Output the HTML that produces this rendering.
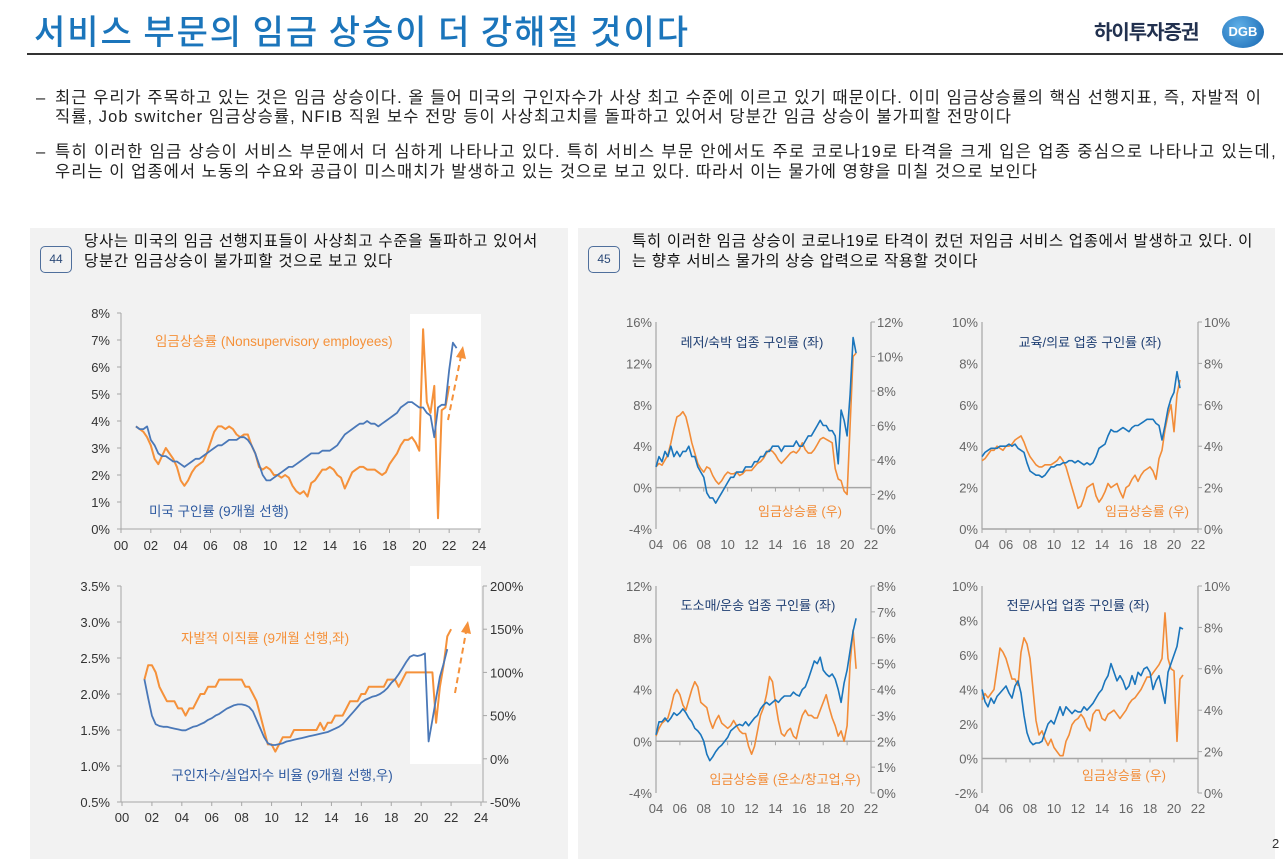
<!DOCTYPE html>
<html><head><meta charset="utf-8">
<style>
body{margin:0;width:1283px;height:859px;background:#fff;position:relative;overflow:hidden;font-family:"Liberation Sans","Noto Sans CJK KR",sans-serif;}
.abs{position:absolute;}
.fit{white-space:nowrap;}
#title{left:34px;top:5px;font-size:34px;color:#1b75bb;font-family:"Noto Sans CJK KR",sans-serif;font-weight:500;}
#logo-text{left:1094px;top:16px;font-size:20px;font-weight:bold;color:#22314f;font-family:"Noto Sans CJK KR",sans-serif;letter-spacing:-1px;}
#logo-circle{left:1222px;top:16px;width:42px;height:32px;border-radius:50%;background:radial-gradient(circle at 40% 35%,#5fb0e8,#1565b0);color:#fff;font-size:13px;text-align:center;line-height:32px;font-weight:bold;}
#rule{left:27px;top:53px;width:1256px;height:2px;background:#333;}
.bl{font-size:16.5px;color:#222;line-height:20px;font-family:"Liberation Sans","Noto Sans CJK KR",sans-serif;}
.panel{background:#f2f2f2;}
.num{width:30px;height:25px;border:1px solid #4f6f9c;border-radius:5px;color:#2c4a78;font-size:12px;text-align:center;line-height:25px;background:#f2f2f2;}
.pt{font-size:15.5px;color:#111;line-height:20px;font-family:"Liberation Sans","Noto Sans CJK KR",sans-serif;}
</style></head>
<body>
<div class="abs fit" id="title" data-fit="656">서비스 부문의 임금 상승이 더 강해질 것이다</div>
<div class="abs" id="logo-text">하이투자증권</div>
<div class="abs" id="logo-circle">DGB</div>
<div class="abs" id="rule"></div>

<div class="abs bl" style="left:36px;top:88px">–</div>
<div class="abs bl fit" style="left:55px;top:88px" data-fit="1207">최근 우리가 주목하고 있는 것은 임금 상승이다. 올 들어 미국의 구인자수가 사상 최고 수준에 이르고 있기 때문이다. 이미 임금상승률의 핵심 선행지표, 즉, 자발적 이</div>
<div class="abs bl fit" style="left:55px;top:107px" data-fit="957">직률, Job switcher 임금상승률, NFIB 직원 보수 전망 등이 사상최고치를 돌파하고 있어서 당분간 임금 상승이 불가피할 전망이다</div>
<div class="abs bl" style="left:36px;top:142px">–</div>
<div class="abs bl fit" style="left:55px;top:142px" data-fit="1222">특히 이러한 임금 상승이 서비스 부문에서 더 심하게 나타나고 있다. 특히 서비스 부문 안에서도 주로 코로나19로 타격을 크게 입은 업종 중심으로 나타나고 있는데,</div>
<div class="abs bl fit" style="left:55px;top:162px" data-fit="983">우리는 이 업종에서 노동의 수요와 공급이 미스매치가 발생하고 있는 것으로 보고 있다. 따라서 이는 물가에 영향을 미칠 것으로 보인다</div>

<div class="abs panel" style="left:30px;top:228px;width:538px;height:631px"></div>
<div class="abs panel" style="left:578px;top:228px;width:697px;height:631px"></div>
<div class="abs num" style="left:40px;top:246px">44</div>
<div class="abs pt fit" style="left:84px;top:232px" data-fit="454">당사는 미국의 임금 선행지표들이 사상최고 수준을 돌파하고 있어서</div>
<div class="abs pt fit" style="left:84px;top:252px" data-fit="309">당분간 임금상승이 불가피할 것으로 보고 있다</div>
<div class="abs num" style="left:588px;top:246px">45</div>
<div class="abs pt fit" style="left:632px;top:232px" data-fit="621">특히 이러한 임금 상승이 코로나19로 타격이 컸던 저임금 서비스 업종에서 발생하고 있다. 이</div>
<div class="abs pt fit" style="left:632px;top:252px" data-fit="346">는 향후 서비스 물가의 상승 압력으로 작용할 것이다</div>
<div class="abs" style="left:1272px;top:836px;font-size:13px;color:#333">2</div>

<svg class="abs" id="charts" style="left:0;top:0" width="1283" height="859"></svg>

<script>
// ---- Chart 1 data (start year, quarterly step) ----
const c1BlueStart = 2001.0;
const c1Blue = [3.8,3.7,3.7,3.8, 3.3,3.1,2.8,2.7, 2.7,2.6,2.5,2.5, 2.4,2.3,2.4,2.5, 2.6,2.6,2.7,2.8, 2.9,3.0,3.1,3.1, 3.2,3.3,3.3,3.3, 3.4,3.4,3.3,3.1, 2.8,2.4,2.0,1.8, 1.8,1.9,2.0,2.1, 2.2,2.3,2.3,2.4, 2.5,2.6,2.7,2.8, 2.8,2.8,2.9,2.9, 2.9,3.0,3.1,3.3, 3.5,3.6,3.7,3.8, 3.9,3.9,4.0,3.9, 3.9,3.8,3.9,4.0, 4.1,4.2,4.3,4.5, 4.6,4.7,4.7,4.6, 4.5,4.5,4.3,4.2, 3.4,4.5,4.6,4.6, 5.9,6.9,6.7];
const c1OrangeStart = 2001.0;
const c1Orange = [3.8,3.7,3.6,3.4, 3.1,2.6,2.4,2.7, 3.0,2.8,2.6,2.3, 1.8,1.6,1.8,2.1, 2.3,2.4,2.5,2.8, 3.2,3.6,3.8,3.8, 3.7,3.8,3.7,3.5, 3.4,3.5,3.5,3.1, 2.8,2.3,2.2,2.3, 2.2,2.0,2.0,1.9, 2.0,1.9,1.6,1.4, 1.3,1.4,1.2,1.7, 1.8,2.0,2.2,2.2, 2.3,2.2,2.0,1.9, 1.5,1.8,2.1,2.2, 2.3,2.3,2.2,2.2, 2.2,2.1,2.0,2.1, 2.4,2.6,2.8,3.1, 3.3,3.3,3.4,3.2, 2.9,7.4,4.7,4.3, 5.3,0.4,4.4,4.5, 5.3];
const c1YTicks = [0,1,2,3,4,5,6,7,8];
const c1XTicks = ["00","02","04","06","08","10","12","14","16","18","20","22","24"];

// ---- Chart 2 data ----
const c2QuitStart = 2001.5;
const c2Quit = [2.2,2.4,2.4, 2.3,2.1,2.0,1.9, 1.9,1.9,1.8,1.8, 1.7,1.8,1.8,1.9, 2.0,2.0,2.1,2.1, 2.1,2.2,2.2,2.2, 2.2,2.2,2.2,2.2, 2.1,2.1,2.0,1.9, 1.7,1.5,1.3,1.3, 1.2,1.3,1.4,1.4, 1.4,1.5,1.5,1.5, 1.5,1.5,1.5,1.5, 1.6,1.5,1.6,1.6, 1.7,1.7,1.7,1.8, 1.9,1.9,1.9,2.0, 2.0,2.1,2.1,2.1, 2.1,2.1,2.2,2.2, 2.2,2.1,2.2,2.3, 2.3,2.3,2.3,2.3, 2.3,2.3,2.3,1.6, 2.1,2.4,2.8,2.9];
const c2RatioStart = 2001.5;
const c2Ratio = [92,70,50, 40,38,37,37, 36,35,34,33, 33,35,37,38, 40,42,45,47, 50,52,55,58, 60,62,63,63, 62,60,55,45, 35,25,18,16, 16,17,18,20, 21,22,23,24, 25,26,27,28, 29,30,31,33, 35,37,40,45, 50,55,60,65, 68,70,72,73, 75,78,82,88, 92,98,105,112, 118,120,119,120, 122,20,45,70, 95,110,127];
const c2LeftTicks = [0.5,1.0,1.5,2.0,2.5,3.0,3.5];
const c2RightTicks = [-50,0,50,100,150,200];

// ---- Chart 3 (leisure/hospitality) ----
const c3BlueStart = 2004.0;
const c3Blue = [2,3,2.5,3.5, 3,4,3,3.5, 3,3.5,3.5,4, 3,3,2,1.5, 1,-0.5,-1,-1, -1.5,-1,-0.5,0, 0.5,1,1,1.5, 1.5,1.5,2,2, 2,2.5,2.5,3, 3,3.5,3.5,4, 4,4,3.5,4, 4,4,4,4.5, 4,4,4.5,5, 5,5.5,6,6.5, 6,6,5.5,5.5, 5,2.3,7.5,6.5, 5,9,14.5,13];
const c3OrangeStart = 2004.0;
const c3Orange = [3.6,3.8,3.7,4.0, 4.3,5.0,5.8,6.5, 6.6,6.8,6.5,5.8, 5.0,4.4,3.8,3.5, 3.3,3.6,3.5,3.1, 2.8,2.6,2.8,3.1, 3.3,3.2,3.2,3.3, 3.1,3.2,3.4,3.4, 3.4,3.6,3.8,3.9, 4.1,4.4,4.6,4.5, 4.3,4.0,3.8,4.0, 4.2,4.4,4.5,4.4, 4.6,5.0,4.6,4.4, 4.4,4.6,4.9,5.2, 5.3,5.2,5.1,5.0, 3.5,2.9,2.8,2.2, 2.0,6.0,10.0,10.2];
const c3LeftTicks = [-4,0,4,8,12,16];
const c3RightTicks = [0,2,4,6,8,10,12];

// ---- Chart 4 (education/health) ----
const c4BlueStart = 2004.0;
const c4Blue = [3.5,3.7,3.8,3.9, 3.9,3.9,4.0,4.0, 4.0,4.1,4.0,4.1, 3.9,3.8,3.7,3.2, 2.8,2.7,2.6,2.6, 2.5,2.6,2.8,3.0, 3.0,3.1,3.1,3.2, 3.2,3.3,3.3,3.2, 3.3,3.2,3.1,3.2, 3.1,3.2,3.5,3.9, 4.0,4.1,4.5,4.8, 4.7,4.7,4.8,4.9, 4.8,4.7,4.9,5.0, 5.0,5.1,5.2,5.3, 5.3,5.3,5.1,5.0, 4.3,5.0,5.8,6.3, 6.6,7.6,6.8];
const c4OrangeStart = 2004.0;
const c4Orange = [3.3,3.4,3.6,3.8, 3.8,4.0,3.9,3.8, 4.0,4.0,4.1,4.3, 4.4,4.5,4.2,3.8, 3.5,3.3,3.1,3.0, 3.0,3.1,3.1,3.1, 3.2,3.3,3.5,3.3, 3.0,2.5,2.0,1.5, 1.0,1.1,1.5,2.0, 2.1,2.2,1.6,1.3, 1.5,1.8,2.2,2.0, 2.1,2.2,1.8,1.5, 2.0,2.1,2.4,2.6, 2.3,2.6,2.8,2.9, 3.0,2.8,2.4,3.4, 3.8,4.8,5.5,6.0, 4.7,6.5,7.2];
const c4LeftTicks = [0,2,4,6,8,10];
const c4RightTicks = [0,2,4,6,8,10];

// ---- Chart 5 (retail/transport) ----
const c5BlueStart = 2004.0;
const c5Blue = [0.5,1.5,1.5,1.8, 1.5,1.8,2.2,2.0, 2.2,2.5,2.2,1.8, 1.5,1.0,0.8,0.5, 0.0,-1.0,-1.5,-1.2, -0.8,-0.5,-0.3,0.0, 0.3,0.8,1.0,1.2, 1.3,1.2,1.5,1.2, 1.5,1.8,2.0,2.5, 2.8,3.0,2.8,3.0, 3.2,3.0,3.3,3.5, 3.5,3.5,3.8,3.6, 3.5,4.0,4.2,4.8, 5.5,6.2,6.0,6.5, 5.5,5.2,5.0,5.2, 4.8,4.0,3.0,4.5, 5.5,7.0,8.5,9.5];
const c5OrangeStart = 2004.0;
const c5Orange = [2.2,2.5,2.7,2.8, 2.9,3.3,3.8,4.0, 3.8,3.4,3.2,3.6, 4.0,4.3,4.1,3.5, 3.4,3.3,2.8,2.5, 2.8,3.0,2.7,2.6, 2.5,2.6,2.8,2.6, 2.4,2.3,2.3,1.8, 1.5,1.8,2.4,3.0, 3.3,3.8,4.5,4.3, 3.5,2.8,2.3,2.2, 2.4,2.5,2.2,2.1, 2.6,3.0,3.2,3.0, 3.0,2.9,2.9,3.2, 3.5,3.8,3.3,2.9, 2.6,2.2,2.4,2.0, 2.6,5.0,6.3,4.8];
const c5LeftTicks = [-4,0,4,8,12];
const c5RightTicks = [0,1,2,3,4,5,6,7,8];

// ---- Chart 6 (professional/business) ----
const c6BlueStart = 2004.0;
const c6Blue = [4.0,3.3,3.0,3.5, 3.2,3.6,3.8,4.0, 4.2,3.8,3.5,4.2, 4.5,3.8,2.5,1.5, 1.0,0.8,0.9,0.9, 1.0,1.5,2.0,2.2, 2.0,2.5,3.0,2.5, 3.0,2.8,2.6,2.8, 2.7,2.7,3.0,2.8, 3.0,3.2,3.5,3.8, 4.0,4.5,4.8,5.5, 5.0,4.5,4.8,4.5, 4.0,4.2,4.8,4.3, 5.0,4.8,5.2,5.3, 5.0,4.0,4.5,4.8, 4.0,3.2,5.0,5.5, 6.0,6.5,7.6,7.5];
const c6OrangeStart = 2004.0;
const c6Orange = [4.5,4.8,4.6,4.8, 5.0,6.0,7.0,6.8, 6.5,6.0,5.5,5.5, 5.2,6.8,7.5,7.2, 6.5,5.0,3.5,2.8, 3.0,2.6,2.3,2.6, 2.2,2.0,1.8,1.8, 2.5,2.8,3.3,3.5, 3.6,3.8,3.6,3.2, 3.0,3.8,4.0,4.0, 3.6,3.5,3.8,3.9, 4.0,3.8,3.6,3.8, 4.0,4.3,4.5,4.6, 4.8,5.0,5.3,5.6, 5.6,5.8,6.0,6.2, 6.5,8.7,6.5,6.0, 5.9,2.5,5.5,5.7];
const c6LeftTicks = [-2,0,2,4,6,8,10];
const c6RightTicks = [0,2,4,6,8,10];
const rXTicks = ["04","06","08","10","12","14","16","18","20","22"];

// fit text lines to reference widths
document.querySelectorAll('.fit').forEach(el=>{
  const target=+el.getAttribute('data-fit');
  const w=el.getBoundingClientRect().width;
  const n=el.textContent.length;
  el.style.letterSpacing=((target-w)/n).toFixed(3)+'px';
});

const svg = document.getElementById('charts');
const NS = 'http://www.w3.org/2000/svg';
function mk(tag, attrs){const e=document.createElementNS(NS,tag);for(const k in attrs)e.setAttribute(k,attrs[k]);svg.appendChild(e);return e;}
function lin(d0,d1,r0,r1){return v=>r0+(v-d0)/(d1-d0)*(r1-r0);}
function txt(x,y,s,anchor,color,size,name){const t=mk('text',{x:x,y:y,'text-anchor':anchor,fill:color,'font-size':size,'font-family':'Liberation Sans, Noto Sans CJK KR, sans-serif'});t.textContent=s;


return t;}
function line(x1,y1,x2,y2,c,w,name){const l=mk('line',{x1:x1,y1:y1,x2:x2,y2:y2,stroke:c,'stroke-width':w});


return l;}
function series(start,vals,sx,sy,color,w,name){let d='';vals.forEach((v,i)=>{d+=(i?'L':'M')+sx(start+i*0.25).toFixed(1)+','+sy(v).toFixed(1);});
const p=mk('path',{d:d,fill:'none',stroke:color,'stroke-width':w,'stroke-linejoin':'round'});


}
const AX='#a6a6a6';

// Chart 1
(function(){
 const sx=lin(2000,2024,121,479), sy=lin(0,8,529,313);
 const r=mk('rect',{x:410,y:314,width:71,height:215,fill:'#fff'});
 
 
 line(121,313,121,529,AX,1,'c1-y-axis'); line(121,529,481,529,AX,1,'c1-x-axis');
 c1YTicks.forEach(v=>{txt(110,sy(v)+5,v+'%','end','#333',13,'c1-y-tick');line(117,sy(v),121,sy(v),AX,1,'c1-y-tickmark');});
 c1XTicks.forEach((s,i)=>{const x=sx(2000+i*2);txt(x,550,s,'middle','#333',13,'c1-x-tick');line(x,529,x,533,AX,1,'c1-x-tickmark');});
 series(c1OrangeStart,c1Orange,sx,sy,'#f5913a',2,'c1-wage-growth-line');
 series(c1BlueStart,c1Blue,sx,sy,'#4a78b8',1.8,'c1-job-openings-line');
 const a=line(448,420,461,356,'#f5913a',2,'c1-trend-arrow'); a.setAttribute('stroke-dasharray','6,4');
 const h=mk('polygon',{points:'463,346 456,357 466,359',fill:'#f5913a'});
 
 
 txt(155,346,'임금상승률 (Nonsupervisory employees)','start','#f5913a',13.5,'c1-orange-label');
 txt(149,516,'미국 구인률 (9개월 선행)','start','#2e5aa0',13.5,'c1-blue-label');
})();

// Chart 2
(function(){
 const sx=lin(2000,2024,122,481), syL=lin(0.5,3.5,802,586), syR=lin(-50,200,802,586);
 const r=mk('rect',{x:410,y:566,width:71,height:198,fill:'#fff'});
 
 
 line(121,586,121,802,AX,1,'c2-left-axis'); line(483,586,483,802,AX,1,'c2-right-axis'); line(121,802,483,802,AX,1,'c2-x-axis');
 c2LeftTicks.forEach(v=>{txt(110,syL(v)+5,v.toFixed(1)+'%','end','#333',13,'c2-left-tick');line(117,syL(v),121,syL(v),AX,1,'c2-left-tickmark');});
 c2RightTicks.forEach(v=>{txt(490,syR(v)+5,v+'%','start','#333',13,'c2-right-tick');line(483,syR(v),487,syR(v),AX,1,'c2-right-tickmark');});
 c1XTicks.forEach((s,i)=>{const x=sx(2000+i*2);txt(x,822,s,'middle','#333',13,'c2-x-tick');line(x,802,x,806,AX,1,'c2-x-tickmark');});
 series(c2QuitStart,c2Quit,sx,syL,'#f5913a',2,'c2-quit-rate-line');
 series(c2RatioStart,c2Ratio,sx,syR,'#4a78b8',1.8,'c2-openings-unemployed-line');
 const a=line(455,693,466,632,'#f5913a',2,'c2-trend-arrow'); a.setAttribute('stroke-dasharray','6,4');
 const h=mk('polygon',{points:'468,621 461,632 471,634',fill:'#f5913a'});
 
 
 txt(265,643,'자발적 이직률 (9개월 선행,좌)','middle','#f5913a',13.5,'c2-orange-label');
 txt(282,780,'구인자수/실업자수 비율 (9개월 선행,우)','middle','#2e5aa0',13.5,'c2-blue-label');
})();

// Right charts
function rchart(cfg){
 const sx=lin(2004,2022,cfg.x0,cfg.x1), syL=lin(cfg.l0,cfg.l1,cfg.yb,cfg.yt), syR=lin(cfg.r0,cfg.r1,cfg.yb,cfg.yt);
 line(cfg.x0,cfg.yt,cfg.x0,cfg.yb,AX,1.2,cfg.n+'-left-axis'); line(cfg.x1,cfg.yt,cfg.x1,cfg.yb,AX,1.2,cfg.n+'-right-axis');
 const zy=syL(0); line(cfg.x0,zy,cfg.x1,zy,AX,1.5,cfg.n+'-zero-line');
 cfg.lt.forEach(v=>{txt(cfg.x0-4,syL(v)+5,v+'%','end','#666',13,cfg.n+'-left-tick');});
 cfg.rt.forEach(v=>{line(cfg.x1,syR(v),cfg.x1+4,syR(v),AX,1,cfg.n+'-right-tickmark');txt(cfg.x1+6,syR(v)+5,v+'%','start','#666',13,cfg.n+'-right-tick');});
 rXTicks.forEach((s,i)=>{const x=sx(2004+i*2);line(x,zy,x,zy+4,AX,1,cfg.n+'-x-tickmark');txt(x,cfg.xl,s,'middle','#666',13,cfg.n+'-x-tick');});
 series(cfg.os,cfg.o,sx,syR,'#f28c38',1.6,cfg.n+'-wage-line');
 series(cfg.bs,cfg.b,sx,syL,'#1a75bc',1.6,cfg.n+'-openings-line');
 txt(cfg.btx,cfg.bty,cfg.bl,'middle','#1f3f73',13,cfg.n+'-blue-label');
 txt(cfg.otx,cfg.oty,cfg.ol,'middle','#f28c38',13,cfg.n+'-orange-label');
}
rchart({n:'c3',x0:656,x1:871,yt:322,yb:529,l0:-4,l1:16,r0:0,r1:12,lt:c3LeftTicks,rt:c3RightTicks,xl:549,bs:c3BlueStart,b:c3Blue,os:c3OrangeStart,o:c3Orange,bl:'레저/숙박 업종 구인률 (좌)',btx:752,bty:347,ol:'임금상승률 (우)',otx:800,oty:516});
rchart({n:'c4',x0:982,x1:1198,yt:322,yb:529,l0:0,l1:10,r0:0,r1:10,lt:c4LeftTicks,rt:c4RightTicks,xl:549,bs:c4BlueStart,b:c4Blue,os:c4OrangeStart,o:c4Orange,bl:'교육/의료 업종 구인률 (좌)',btx:1090,bty:347,ol:'임금상승률 (우)',otx:1147,oty:516});
rchart({n:'c5',x0:656,x1:871,yt:586,yb:793,l0:-4,l1:12,r0:0,r1:8,lt:c5LeftTicks,rt:c5RightTicks,xl:813,bs:c5BlueStart,b:c5Blue,os:c5OrangeStart,o:c5Orange,bl:'도소매/운송 업종 구인률 (좌)',btx:758,bty:610,ol:'임금상승률 (운소/창고업,우)',otx:785,oty:784});
rchart({n:'c6',x0:982,x1:1198,yt:586,yb:793,l0:-2,l1:10,r0:0,r1:10,lt:c6LeftTicks,rt:c6RightTicks,xl:813,bs:c6BlueStart,b:c6Blue,os:c6OrangeStart,o:c6Orange,bl:'전문/사업 업종 구인률 (좌)',btx:1078,bty:610,ol:'임금상승률 (우)',otx:1124,oty:780});
</script>
</body></html>
